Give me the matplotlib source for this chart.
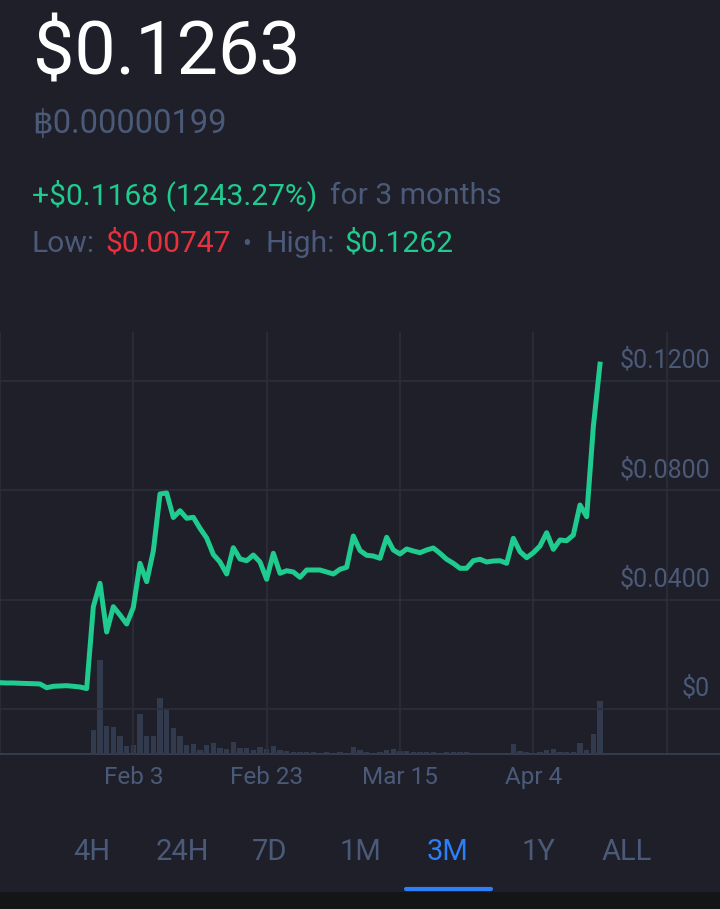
import pandas as pd
import matplotlib.pyplot as plt
from matplotlib.lines import Line2D
from matplotlib.patches import Rectangle
import matplotlib.transforms as mtransforms

plt.rcParams['font.family'] = ['Roboto', 'DejaVu Sans']

BG = '#1e1f28'
GREY = '#4b5a78'
GREEN = '#1fcb8e'
RED = '#e8313d'
BLUE = '#2d7ff9'
GRID = '#2c2f3b'

# daily closes, Jan 14 - Apr 14 (USD)
prices = [
    0.00963, 0.00952, 0.00952, 0.00941, 0.00933, 0.00926, 0.00915, 0.00780,
    0.00831, 0.00842, 0.00853, 0.00831, 0.00805, 0.00747, 0.03744, 0.04600,
    0.02818, 0.03744, 0.03440, 0.03111, 0.03715, 0.05332, 0.04659, 0.05782,
    0.07868, 0.07905, 0.07008, 0.07257, 0.06979, 0.07016, 0.06613, 0.06258,
    0.05654, 0.05380, 0.04941, 0.05903, 0.05490, 0.05427, 0.05636, 0.05380,
    0.04747, 0.05698, 0.04966, 0.05061, 0.05014, 0.04820, 0.05087, 0.05087,
    0.05087, 0.05014, 0.04941, 0.05113, 0.05186, 0.06331, 0.05801, 0.05625,
    0.05599, 0.05515, 0.06284, 0.05819, 0.05673, 0.05856, 0.05782, 0.05720,
    0.05819, 0.05892, 0.05698, 0.05479, 0.05332, 0.05149, 0.05149, 0.05427,
    0.05479, 0.05380, 0.05416, 0.05427, 0.05332, 0.06247, 0.05757, 0.05537,
    0.05720, 0.05965, 0.06452, 0.05845, 0.06185, 0.06159, 0.06368, 0.07466,
    0.07038, 0.10331, 0.12620,
]

# daily volume (USD millions, rough)
volumes = [
    16, 16, 16, 16, 16, 16, 16, 16, 16, 16, 16, 16, 16, 16, 480, 1880,
    560, 540, 360, 160, 180, 800, 360, 360, 1120, 900, 520, 360, 180, 200,
    80, 180, 220, 120, 100, 240, 120, 120, 80, 140, 100, 160, 80, 60,
    40, 40, 40, 40, 30, 40, 30, 50, 20, 140, 80, 40, 30, 40, 80, 100,
    60, 60, 40, 40, 40, 40, 30, 40, 40, 40, 40, 20, 20, 20, 20, 20,
    20, 200, 60, 40, 20, 40, 80, 100, 40, 40, 40, 220, 80, 400, 1060,
]

dates = pd.date_range('2021-01-14', periods=len(prices), freq='D')
tick_dates = pd.date_range('2021-01-14', periods=6, freq='20D')
tick_labels = ['', 'Feb 3', 'Feb 23', 'Mar 15', 'Apr 4', '']
price_ticks = [0, 0.04, 0.08, 0.12]
price_labels = ['$0', '$0.0400', '$0.0800', '$0.1200']
tabs = ['4H', '24H', '7D', '1M', '3M', '1Y', 'ALL']
tab_x = [92, 182, 270, 360, 448, 538, 627]

W, H = 720, 909
fig = plt.figure(figsize=(W / 100, H / 100), dpi=100, facecolor=BG)


def fx(x):
    return x / W


def fy(y):
    return 1 - y / H


rect = [0, fy(754), 1, (754 - 332) / H]
ax_vol = fig.add_axes(rect)
ax_vol.set_facecolor(BG)
ax_vol.bar(dates, volumes, width=0.8, color='#323b4e', zorder=2)
ax_vol.set_ylim(0, 8440)
ax_vol.axis('off')

ax = fig.add_axes(rect)
ax.patch.set_alpha(0)
ax.plot(dates, prices, color=GREEN, lw=3.6, solid_joinstyle='round', zorder=5)
ax.set_ylim(-0.01647, 0.13797)
ax.set_xlim(dates[0], dates[0] + pd.Timedelta(days=108))
ax_vol.set_xlim(ax.get_xlim())

for p in price_ticks:
    ax.axhline(p, color=GRID, lw=1.2, zorder=1)
for d in tick_dates:
    ax.axvline(d, color=GRID, lw=1.2, zorder=1)

ax.set_yticks([])
ax.set_xticks(tick_dates)
ax.set_xticklabels(tick_labels)
ax.tick_params(axis='x', length=0, pad=8.5, labelsize=17.5, labelcolor=GREY)
for s in ['top', 'left', 'right']:
    ax.spines[s].set_visible(False)
ax.spines['bottom'].set_color('#353b4b')
ax.spines['bottom'].set_linewidth(1.5)

off = mtransforms.offset_copy(ax.get_yaxis_transform(), fig=fig, x=0, y=9.5, units='points')
for p, lab in zip(price_ticks, price_labels):
    ax.text(0.986, p, lab, transform=off, ha='right', va='baseline',
            color=GREY, fontsize=18)

# header
fig.text(fx(33), fy(75), '$0.1263', color='white', fontsize=53, va='baseline')
fig.text(fx(32), fy(133), '\u0e3f0.00000199', color=GREY, fontsize=23.5, va='baseline',
         family=['Roboto', 'DejaVu Sans'])
fig.text(fx(32), fy(204), '+$0.1168 (1243.27%)', color=GREEN, fontsize=21.6, va='baseline')
fig.text(fx(330), fy(204), 'for 3 months', color=GREY, fontsize=21.6, va='baseline')
fig.text(fx(32), fy(252), 'Low:', color=GREY, fontsize=21.6, va='baseline')
fig.text(fx(105), fy(252), '$0.00747', color=RED, fontsize=21.6, va='baseline')
fig.text(fx(242), fy(252), '\u2022', color=GREY, fontsize=19, va='baseline')
fig.text(fx(265), fy(252), 'High:', color=GREY, fontsize=21.6, va='baseline')
fig.text(fx(344), fy(252), '$0.1262', color=GREEN, fontsize=21.6, va='baseline')

# period tabs
for t, x in zip(tabs, tab_x):
    fig.text(fx(x), fy(860), t, color=BLUE if t == '3M' else GREY,
             fontsize=21, ha='center', va='baseline')
fig.add_artist(Line2D([fx(406), fx(491)], [fy(888.5), fy(888.5)], color=BLUE,
                      lw=3, solid_capstyle='round'))
fig.add_artist(Rectangle((0, 0), 1, (H - 892) / H, color='#141517', lw=0))

fig.savefig('out.png', dpi=100, facecolor=BG)
